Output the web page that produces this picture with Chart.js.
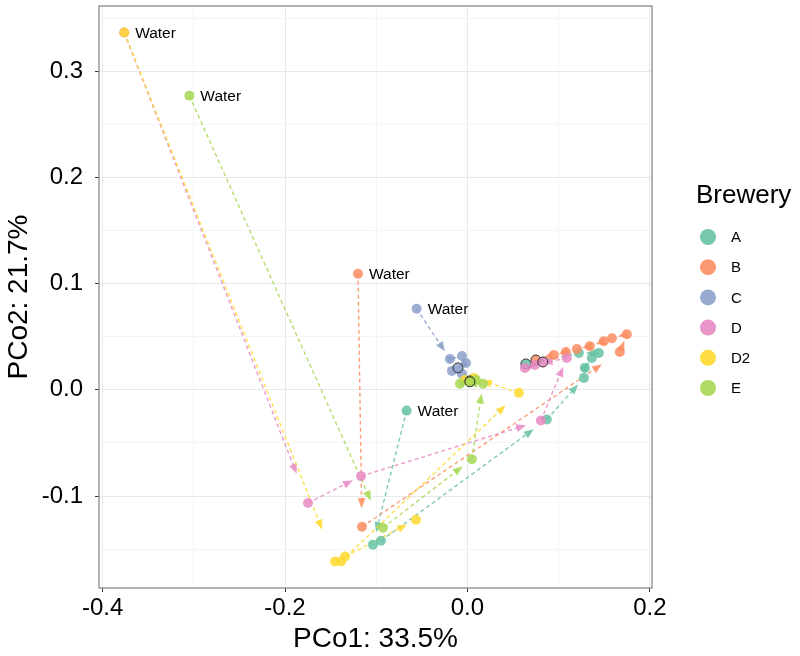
<!DOCTYPE html>
<html lang="en">
<head>
<meta charset="UTF-8" />
<title>PCoA by brewery</title>
<style>
  html, body { margin: 0; padding: 0; background: #fff; }
  #wrap { position: relative; width: 800px; height: 656px; }
</style>
</head>
<body>
<div id="wrap"><canvas id="pcoa"></canvas></div>
<script src="https://cdn.jsdelivr.net/npm/chart.js"></script>
<script>
// breweries and colours (Set2)
const breweries = ["A", "B", "C", "D", "D2", "E"];
const colors = ["#66C2A5", "#FC8D62", "#8DA0CB", "#E78AC3", "#FFD92F", "#A6D854"];

// samples per brewery as [PCo1, PCo2]; first = Water, last = final sample (outlined)
const pcoA = [[-0.0667, -0.0196], [-0.1036, -0.1458], [-0.0948, -0.1421], [0.0871, -0.0280],
  [0.1277, 0.0112], [0.1288, 0.0206], [0.1364, 0.0299], [0.1441, 0.0346], [0.1222, 0.0346],
  [0.0641, 0.0243]];
const pcoB = [[-0.1200, 0.1093], [-0.1156, -0.1290], [0.1671, 0.0355], [0.1748, 0.0523],
  [0.1584, 0.0486], [0.1496, 0.0458], [0.1342, 0.0411], [0.1200, 0.0383], [0.1079, 0.0355],
  [0.0948, 0.0327], [0.0751, 0.0280]];
const pcoC = [[-0.0557, 0.0763], [-0.0192, 0.0290], [-0.0060, 0.0318], [-0.0016, 0.0252],
  [-0.0170, 0.0178], [-0.0060, 0.0150], [-0.0104, 0.0206]];
const pcoD = [[-0.3764, 0.3364], [-0.1748, -0.1065], [-0.1167, -0.0813], [0.0805, -0.0290],
  [0.1090, 0.0299], [0.0740, 0.0234], [0.0630, 0.0206], [0.0827, 0.0262]];
const pcoD2 = [[-0.3762, 0.3364], [-0.1452, -0.1617], [-0.1386, -0.1617], [-0.1342, -0.1570],
  [-0.0564, -0.1224], [0.0564, -0.0028], [0.0071, 0.0112], [-0.0027, 0.0093], [0.0027, 0.0084]];
const pcoE = [[-0.3049, 0.2769], [-0.0926, -0.1299], [0.0049, -0.0654], [0.0170, 0.0056],
  [-0.0082, 0.0056], [0.0093, 0.0093], [0.0027, 0.0075]];

// arrows between samples: [from, to] indices
const linksA = [[0, 1], [1, 2], [2, 3], [3, 4], [4, 5], [5, 6], [6, 7], [7, 8], [8, 9]];
const linksB = [[0, 1], [1, 2], [2, 3], [3, 4], [4, 5], [5, 6], [6, 7], [7, 8], [8, 9], [9, 10]];
const linksC = [[0, 1], [1, 2], [2, 3], [3, 4], [4, 5], [5, 6]];
const linksD = [[0, 1], [1, 2], [2, 3], [3, 4], [4, 5], [5, 6], [6, 7]];
const linksD2 = [[0, 1], [1, 2], [2, 3], [3, 4], [2, 5], [5, 6], [6, 7], [7, 8]];
const linksE = [[0, 1], [1, 2], [2, 3], [3, 4], [4, 5], [5, 6]];

const waterLabel = "Water";

// axis ticks
const xMajor = [-0.4, -0.2, 0.0, 0.2];
const yMajor = [-0.1, 0.0, 0.1, 0.2, 0.3];

const series = [pcoA, pcoB, pcoC, pcoD, pcoD2, pcoE];
const links = [linksA, linksB, linksC, linksD, linksD2, linksE];
const FONT = "'Liberation Sans', Arial, sans-serif";

function rgba(hex, a) {
  const n = parseInt(hex.slice(1), 16);
  return `rgba(${(n >> 16) & 255},${(n >> 8) & 255},${n & 255},${a})`;
}

// ggplot-like 5% expansion
function expand(vals) {
  const lo = Math.min(...vals), hi = Math.max(...vals), d = (hi - lo) * 0.05;
  return [lo - d, hi + d];
}
const allPts = series.flat();
const [xMin, xMax] = expand(allPts.map(p => p[0]));
const [yMin, yMax] = expand(allPts.map(p => p[1]));

function withMinors(major, lo, hi) {
  const step = major[1] - major[0];
  const vals = major.slice();
  major.forEach(m => {
    [m - step / 2, m + step / 2].forEach(v => {
      if (v > lo && v < hi && !vals.some(u => Math.abs(u - v) < 1e-9)) vals.push(v);
    });
  });
  return vals.sort((a, b) => a - b);
}
const isMajor = (v, major) => major.some(m => Math.abs(m - v) < 1e-9);

function axisOpts(major, lo, hi, title, isX) {
  return {
    type: "linear",
    min: lo,
    max: hi,
    afterBuildTicks: s => { s.ticks = withMinors(major, lo, hi).map(v => ({ value: v })); },
    afterFit: s => {
      if (isX) { s.height = 68; s.paddingLeft = 0; s.paddingRight = 0; }
      else { s.width = 99; s.paddingTop = 0; s.paddingBottom = 0; }
    },
    ticks: {
      autoSkip: false,
      maxRotation: 0,
      color: "#000",
      font: { family: FONT, size: 24 },
      padding: isX ? 2 : 12,
      callback: v => isMajor(v, major) ? (Math.round(v * 10) / 10).toFixed(1) : ""
    },
    grid: {
      color: c => isMajor(c.tick.value, major) ? "#e8e8e8" : "#f2f2f2",
      lineWidth: c => isMajor(c.tick.value, major) ? 1 : 0.8,
      tickColor: c => isMajor(c.tick.value, major) ? "#333" : "rgba(0,0,0,0)",
      tickLength: 4,
      tickWidth: 1
    },
    border: { display: false },
    title: {
      display: true,
      text: title,
      color: "#000",
      font: { family: FONT, size: 28 },
      padding: isX ? { top: 0, bottom: 0 } : { top: 2, bottom: 0 }
    }
  };
}

const panelPlugin = {
  id: "panel",
  beforeDatasetsDraw(chart) {
    const { ctx, chartArea: a, scales: { x: xs, y: ys } } = chart;
    ctx.save();
    ctx.strokeStyle = "#8a8a8a";
    ctx.lineWidth = 1.3;
    ctx.strokeRect(a.left, a.top, a.right - a.left, a.bottom - a.top);

    // dashed arrows between successive samples
    series.forEach((pts, i) => {
      const col = rgba(colors[i], 0.85);
      links[i].forEach(([p, q]) => {
        const x0 = xs.getPixelForValue(pts[p][0]), y0 = ys.getPixelForValue(pts[p][1]);
        const x1 = xs.getPixelForValue(pts[q][0]), y1 = ys.getPixelForValue(pts[q][1]);
        const dx = x1 - x0, dy = y1 - y0, len = Math.hypot(dx, dy);
        if (len < 12) return;
        const ux = dx / len, uy = dy / len;
        const gap = Math.min(0.05 * len + 6, len * 0.4);
        const tx = x1 - ux * gap, ty = y1 - uy * gap;
        const hl = 10, hw = 4;
        ctx.strokeStyle = col;
        ctx.lineWidth = 1.4;
        ctx.setLineDash([4, 3]);
        ctx.beginPath();
        ctx.moveTo(x0, y0);
        ctx.lineTo(tx - ux * hl * 0.5, ty - uy * hl * 0.5);
        ctx.stroke();
        ctx.setLineDash([]);
        ctx.fillStyle = col;
        ctx.beginPath();
        ctx.moveTo(tx, ty);
        ctx.lineTo(tx - ux * hl - uy * hw, ty - uy * hl + ux * hw);
        ctx.lineTo(tx - ux * hl + uy * hw, ty - uy * hl - ux * hw);
        ctx.closePath();
        ctx.fill();
      });
    });
    ctx.restore();
  },
  afterDatasetsDraw(chart) {
    const { ctx, scales: { x: xs, y: ys } } = chart;
    ctx.save();
    ctx.fillStyle = "#000";
    ctx.font = `15.5px ${FONT}`;
    ctx.textBaseline = "middle";
    const done = [];
    series.forEach(pts => {
      const [wx, wy] = pts[0];
      if (done.some(([a, b]) => Math.abs(a - wx) < 0.002 && Math.abs(b - wy) < 0.002)) return;
      done.push([wx, wy]);
      ctx.fillText(waterLabel, xs.getPixelForValue(wx) + 11, ys.getPixelForValue(wy) + 1);
    });
    ctx.restore();
  },
  afterDraw(chart) {
    const { ctx } = chart;
    ctx.save();
    ctx.fillStyle = "#000";
    ctx.font = `26px ${FONT}`;
    ctx.textBaseline = "alphabetic";
    ctx.fillText("Brewery", 696, 203);
    ctx.font = `15px ${FONT}`;
    ctx.textBaseline = "middle";
    breweries.forEach((b, i) => {
      const cy = 237 + i * 30.2;
      ctx.fillStyle = rgba(colors[i], 0.9);
      ctx.beginPath();
      ctx.arc(708, cy, 8, 0, Math.PI * 2);
      ctx.fill();
      ctx.fillStyle = "#000";
      ctx.fillText(b, 731, cy + 1);
    });
    ctx.restore();
  }
};

new Chart(document.getElementById("pcoa"), {
  type: "scatter",
  data: {
    datasets: breweries.map((b, i) => ({
      label: b,
      data: series[i].map(([x, y]) => ({ x, y })),
      order: breweries.length - i,
      pointRadius: 5,
      pointBackgroundColor: rgba(colors[i], 0.85),
      pointBorderColor: c => c.dataIndex === series[i].length - 1 ? "#333" : "rgba(0,0,0,0)",
      pointBorderWidth: c => c.dataIndex === series[i].length - 1 ? 1 : 0
    }))
  },
  options: {
    responsive: true,
    maintainAspectRatio: false,
    animation: false,
    layout: { padding: { left: 0, right: 148, top: 3, bottom: 0 } },
    plugins: { legend: { display: false }, tooltip: { enabled: false } },
    scales: {
      x: axisOpts(xMajor, xMin, xMax, "PCo1: 33.5%", true),
      y: axisOpts(yMajor, yMin, yMax, "PCo2: 21.7%", false)
    }
  },
  plugins: [panelPlugin]
});
</script>
</body>
</html>
